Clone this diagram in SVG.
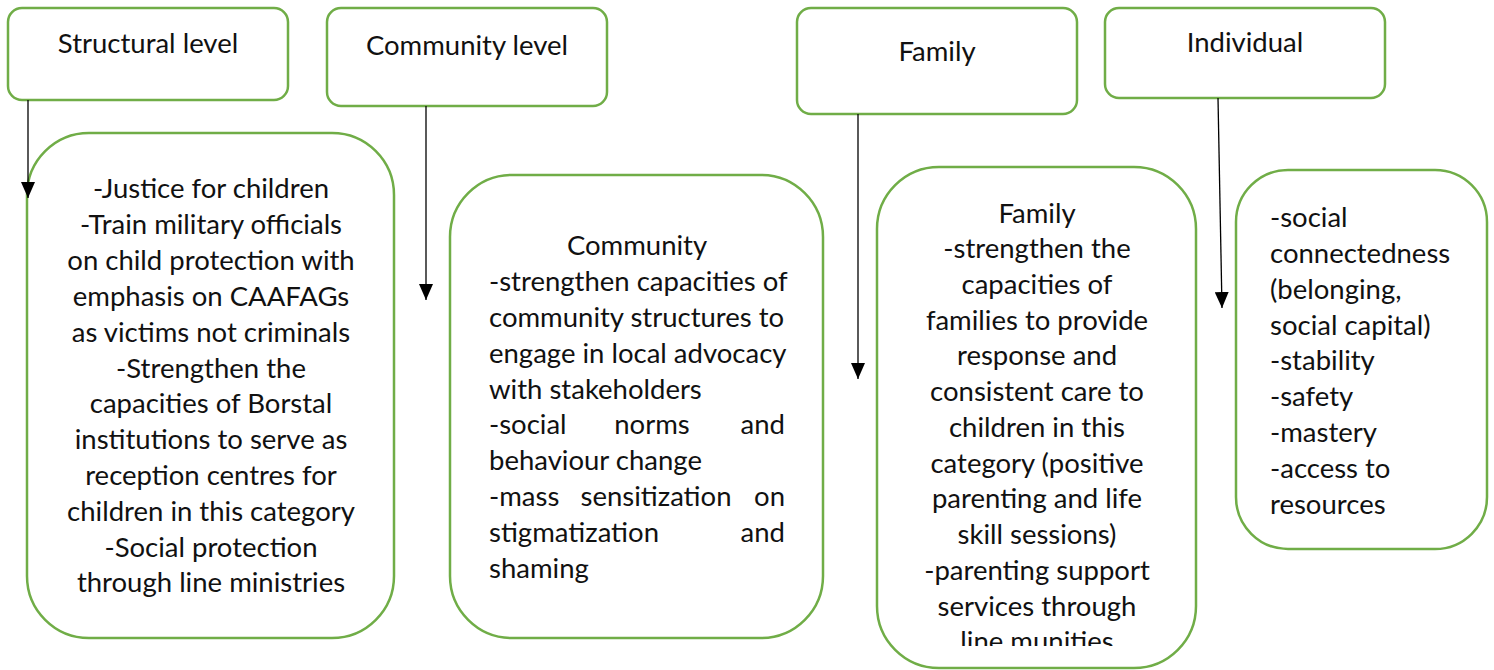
<svg xmlns="http://www.w3.org/2000/svg" width="1494" height="670" viewBox="0 0 1494 670">
  <style>
    .box { fill: #ffffff; stroke: #70AD47; stroke-width: 2.5; }
    .t { font-family: Lato, "Open Sans", "Liberation Sans", sans-serif; font-size: 27.5px; fill: #111; }
    .c { text-anchor: middle; }
    .e { text-anchor: end; }
    .link { stroke: #000; stroke-width: 1.3; fill: none; marker-end: url(#arrow); }
  </style>
  <defs>
    <!-- filled triangular arrowhead, tip at the end of the line -->
    <marker id="arrow" markerWidth="16" markerHeight="14" refX="16" refY="7" orient="auto" markerUnits="userSpaceOnUse" viewBox="0 0 16 14">
      <path d="M0,0 L16,7 L0,14 Z" fill="#000"/>
    </marker>
    <clipPath id="famClip">
      <rect x="877" y="167" width="320" height="479"/>
    </clipPath>
  </defs>

  <!-- level headers -->
  <g id="structural-level">
    <rect class="box" x="8" y="8" width="280" height="92" rx="14"/>
    <text class="t c" x="148" y="53">Structural level</text>
  </g>
  <g id="community-level">
    <rect class="box" x="327" y="8" width="280" height="98" rx="14"/>
    <text class="t c" x="467" y="55">Community level</text>
  </g>
  <g id="family-level">
    <rect class="box" x="797" y="8" width="280" height="106" rx="14"/>
    <text class="t c" x="937" y="61">Family</text>
  </g>
  <g id="individual-level">
    <rect class="box" x="1105" y="8" width="280" height="90" rx="14"/>
    <text class="t c" x="1245" y="52">Individual</text>
  </g>

  <!-- detail boxes -->
  <g id="structural-detail">
    <rect class="box" x="27" y="133" width="367" height="505" rx="62"/>
    <g class="t c">
      <text x="211" y="198">-Justice for children</text>
      <text x="211" y="234">-Train military officials</text>
      <text x="211" y="270">on child protection with</text>
      <text x="211" y="306">emphasis on CAAFAGs</text>
      <text x="211" y="342">as victims not criminals</text>
      <text x="211" y="378">-Strengthen the</text>
      <text x="211" y="413">capacities of Borstal</text>
      <text x="211" y="449">institutions to serve as</text>
      <text x="211" y="485">reception centres for</text>
      <text x="211" y="521">children in this category</text>
      <text x="211" y="557">-Social protection</text>
      <text x="211" y="592">through line ministries</text>
    </g>
  </g>

  <g id="community-detail">
    <rect class="box" x="450" y="175" width="373" height="463" rx="62"/>
    <g class="t">
      <text class="c" x="637" y="255">Community</text>
      <text x="489" y="291">-strengthen capacities of</text>
      <text x="489" y="327">community structures to</text>
      <text x="489" y="363">engage in local advocacy</text>
      <text x="489" y="399">with stakeholders</text>
      <text x="489" y="434">-social</text>
      <text class="c" x="652" y="434">norms</text>
      <text class="e" x="785" y="434">and</text>
      <text x="489" y="470">behaviour change</text>
      <text x="489" y="506">-mass</text>
      <text class="c" x="656" y="506">sensitization</text>
      <text class="e" x="785" y="506">on</text>
      <text x="489" y="542">stigmatization</text>
      <text class="e" x="785" y="542">and</text>
      <text x="489" y="578">shaming</text>
    </g>
  </g>

  <g id="family-detail">
    <rect class="box" x="877" y="167" width="319" height="501" rx="62"/>
    <g class="t c" clip-path="url(#famClip)">
      <text x="1037" y="223">Family</text>
      <text x="1037" y="258">-strengthen the</text>
      <text x="1037" y="294">capacities of</text>
      <text x="1037" y="330">families to provide</text>
      <text x="1037" y="365">response and</text>
      <text x="1037" y="401">consistent care to</text>
      <text x="1037" y="437">children in this</text>
      <text x="1037" y="473">category (positive</text>
      <text x="1037" y="508">parenting and life</text>
      <text x="1037" y="544">skill sessions)</text>
      <text x="1037" y="580">-parenting support</text>
      <text x="1037" y="616">services through</text>
      <text x="1037" y="651">line munities</text>
    </g>
  </g>

  <g id="individual-detail">
    <rect class="box" x="1236" y="170" width="251" height="379" rx="52"/>
    <g class="t">
      <text x="1270" y="227">-social</text>
      <text x="1270" y="263">connectedness</text>
      <text x="1270" y="299">(belonging,</text>
      <text x="1270" y="335">social capital)</text>
      <text x="1270" y="370">-stability</text>
      <text x="1270" y="406">-safety</text>
      <text x="1270" y="442">-mastery</text>
      <text x="1270" y="478">-access to</text>
      <text x="1270" y="514">resources</text>
    </g>
  </g>

  <!-- connectors -->
  <g id="connectors">
    <line class="link" x1="28" y1="100" x2="28" y2="198"/>
    <line class="link" x1="426" y1="106" x2="426" y2="300"/>
    <line class="link" x1="858" y1="114" x2="858" y2="379"/>
    <line class="link" x1="1218" y1="98" x2="1222" y2="308"/>
  </g>
</svg>
